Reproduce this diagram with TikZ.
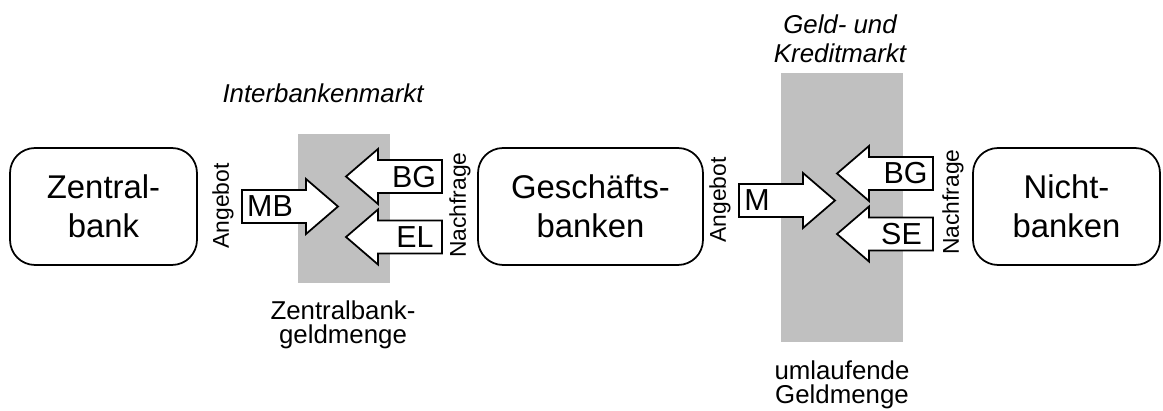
\documentclass[tikz,border=0pt]{standalone}
\usepackage{fontspec}
\setmainfont{Liberation Sans}
\usepackage{tikz}
\usetikzlibrary{positioning}
\definecolor{marktgrau}{RGB}{192,192,192}

\begin{document}
\begin{tikzpicture}[
    x=0.02cm, y=-0.02cm,
    line width=1pt,
    sektor/.style={draw, rounded corners=0.5cm, minimum width=3.74cm, minimum height=2.34cm,
        align=center, inner sep=0, font=\fontsize{18.7}{22.2}\selectfont},
    markt/.style={fill=marktgrau, draw=none},
    pfeil/.style={draw, fill=white, line join=miter},
    pfeillabel/.style={inner sep=0, font=\fontsize{17.3}{20}\selectfont},
    seite/.style={rotate=90, inner sep=0, font=\fontsize{13}{15}\selectfont},
    beschrift/.style={align=center, inner sep=0, anchor=base, font=\fontsize{14.7}{14.2}\selectfont},
    markttitel/.style={align=center, inner sep=0, anchor=base, font=\fontsize{14.7}{17}\selectfont\itshape}]
\useasboundingbox (0,0) rectangle (1163,411);

% die beiden Maerkte
\fill[markt] (298,134) rectangle (390,283);
\fill[markt] (781,73) rectangle (903,342);

% Sektoren
\node[sektor] (zb) at (103.5,206.5) {Zentral-\\bank};
\node[sektor, minimum width=4.5cm] (gb) at (590.5,206.5) {Gesch\"afts-\\banken};
\node[sektor] (nb) at (1066.5,206.5) {Nicht-\\banken};

% Angebot / Nachfrage
\node[seite] (angebotz) at (223,206) {Angebot};
\node[seite] (nachfragez) at (460,205) {Nachfrage};
\node[seite] (angebotg) at (720,200) {Angebot};
\node[seite] (nachfrageg) at (953,202) {Nachfrage};

% Pfeile Interbankenmarkt
\draw[pfeil] (242,190) -- ++(64,0) -- ++(0,-11) -- ++(32,27.5) -- ++(-32,27.5) -- ++(0,-11) -- ++(-64,0) -- cycle;
\draw[pfeil] (346,176.5) -- ++(32,-27.5) -- ++(0,11) -- ++(64,0) -- ++(0,33) -- ++(-64,0) -- ++(0,11) -- cycle;
\draw[pfeil] (346,237) -- ++(32,-27.5) -- ++(0,11) -- ++(64,0) -- ++(0,33) -- ++(-64,0) -- ++(0,11) -- cycle;
\node[pfeillabel] (mb) at (270,206.5) {MB};
\node[pfeillabel] (bgz) at (414,177) {BG};
\node[pfeillabel] (el) at (415,237) {EL};

% Pfeile Geld- und Kreditmarkt
\draw[pfeil] (739,184) -- ++(64,0) -- ++(0,-11) -- ++(32,27.5) -- ++(-32,27.5) -- ++(0,-11) -- ++(-64,0) -- cycle;
\draw[pfeil] (837,173.5) -- ++(32,-27.5) -- ++(0,11) -- ++(64,0) -- ++(0,33) -- ++(-64,0) -- ++(0,11) -- cycle;
\draw[pfeil] (837,234) -- ++(32,-27.5) -- ++(0,11) -- ++(64,0) -- ++(0,33) -- ++(-64,0) -- ++(0,11) -- cycle;
\node[pfeillabel] (m) at (757,200.5) {M};
\node[pfeillabel] (bgk) at (905.5,173.5) {BG};
\node[pfeillabel] (se) at (901.5,234) {SE};

% Beschriftungen
\node[markttitel] (ibm) at (323,103) {Interbankenmarkt};
\node[beschrift] (zbgm) at (343,344) {Zentralbank-\\geldmenge};
\node[markttitel] (gkm) at (840,63) {Geld- und\\Kreditmarkt};
\node[beschrift] (ugm) at (842,404) {umlaufende\\Geldmenge};

\end{tikzpicture}
\end{document}
